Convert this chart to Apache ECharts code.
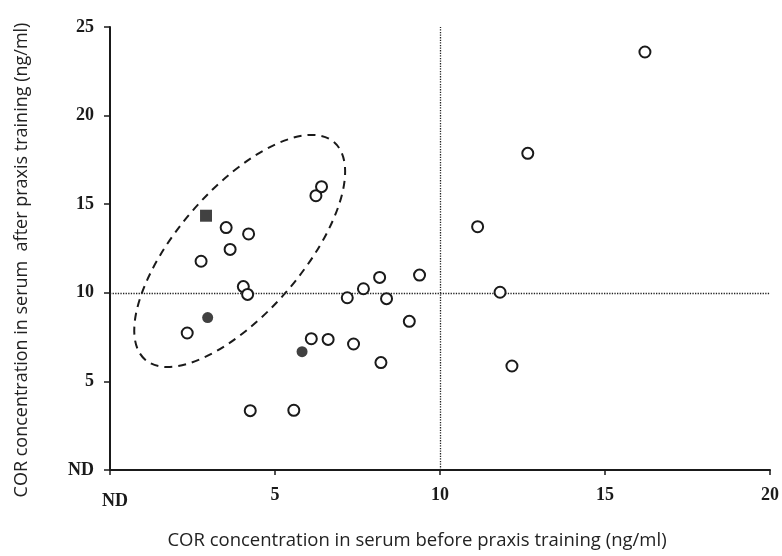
<!DOCTYPE html>
<html>
<head>
<meta charset="utf-8">
<script src="https://cdn.jsdelivr.net/npm/echarts@6/dist/echarts.min.js"></script>
<style>html,body{margin:0;padding:0;background:#fff}#c{width:782px;height:556px}</style>
</head>
<body>
<div id="c"></div>
<script>
// Data
const openCircles = [
  [16.21, 23.59], [12.66, 17.87], [11.14, 13.73], [11.82, 10.03], [12.18, 5.87],
  [5.57, 3.37], [6.10, 7.41], [6.61, 7.37], [7.19, 9.72], [7.68, 10.23],
  [7.38, 7.11], [8.17, 10.87], [8.38, 9.67], [8.21, 6.06], [9.07, 8.39],
  [9.38, 11.0], [3.52, 13.68], [4.20, 13.32], [3.64, 12.45], [2.76, 11.78],
  [4.04, 10.35], [4.17, 9.91], [2.34, 7.73], [6.24, 15.48], [6.41, 15.99],
  [4.25, 3.35]
];
const filledCircles = [[2.96, 8.60], [5.82, 6.68]];
const filledSquares = [[2.91, 14.35]];
const xTicks = [0, 5, 10, 15, 20];
const yTicks = [0, 5, 10, 15, 20, 25];
const refX = 10, refY = 10;
const ellipseCenter = [3.93, 12.36];

const xTitle = 'COR concentration in serum before praxis training (ng/ml)';
const yTitle = 'COR concentration in serum  after praxis training (ng/ml)';

const chart = echarts.init(document.getElementById('c'), null, {renderer: 'canvas'});
const tickFont = {fontFamily: 'Liberation Serif', fontWeight: 'bold', fontSize: 18, color: '#1a1a1a'};
const titleFont = {fontFamily: 'Open Sans', fontSize: 18, fill: '#222'};

chart.setOption({
  animation: false,
  backgroundColor: '#fff',
  grid: {left: 110, right: 11, top: 27, bottom: 86},
  xAxis: {
    type: 'value', min: xTicks[0], max: xTicks[xTicks.length - 1], interval: 5,
    splitLine: {show: false},
    axisLine: {lineStyle: {color: '#1a1a1a', width: 2}},
    axisTick: {show: true, length: 5, lineStyle: {color: '#1a1a1a', width: 1.5}},
    axisLabel: Object.assign({
      margin: 16,
      formatter: v => v === 0 ? '{nd|ND}' : String(v),
      rich: {nd: Object.assign({padding: [6, 0, 0, 10]}, tickFont)}
    }, tickFont)
  },
  yAxis: {
    type: 'value', min: yTicks[0], max: yTicks[yTicks.length - 1], interval: 5,
    splitLine: {show: false},
    axisLine: {show: true, lineStyle: {color: '#1a1a1a', width: 2}},
    axisTick: {show: true, length: 6, lineStyle: {color: '#1a1a1a', width: 1.5}},
    axisLabel: Object.assign({
      margin: 16,
      formatter: v => v === 0 ? 'ND' : String(v)
    }, tickFont)
  },
  series: [
    {
      type: 'scatter', name: 'open', data: openCircles, symbol: 'circle', symbolSize: 11,
      itemStyle: {color: '#fff', borderColor: '#1a1a1a', borderWidth: 2, opacity: 1},
      z: 5,
      markLine: {
        silent: true, symbol: 'none', label: {show: false},
        lineStyle: {color: '#222', type: 'dotted', width: 1.3},
        data: [{xAxis: refX}, {yAxis: refY}]
      }
    },
    {
      type: 'scatter', name: 'filled', data: filledCircles, symbol: 'circle', symbolSize: 11,
      itemStyle: {color: '#111'}, z: 6
    },
    {
      type: 'scatter', name: 'square', data: filledSquares, symbol: 'rect', symbolSize: 12,
      itemStyle: {color: '#111'}, z: 6
    }
  ]
});

const cp = chart.convertToPixel({gridIndex: 0}, ellipseCenter);
chart.setOption({
  graphic: [
    {type: 'text', x: 417, y: 541,
     style: Object.assign({text: xTitle, align: 'center', verticalAlign: 'middle'}, titleFont, {fontSize: 18.5}), z: 10},
    {type: 'text', rotation: Math.PI / 2, x: 22, y: 260,
     style: Object.assign({text: yTitle, align: 'center', verticalAlign: 'middle'}, titleFont), z: 10},
    {type: 'ellipse', x: cp[0], y: cp[1], rotation: 49 * Math.PI / 180,
     shape: {cx: 0, cy: 0, rx: 144, ry: 62},
     style: {fill: 'none', stroke: '#1a1a1a', lineWidth: 2, lineDash: [8, 6]}, z: 4, silent: true}
  ]
});
</script>
</body>
</html>
